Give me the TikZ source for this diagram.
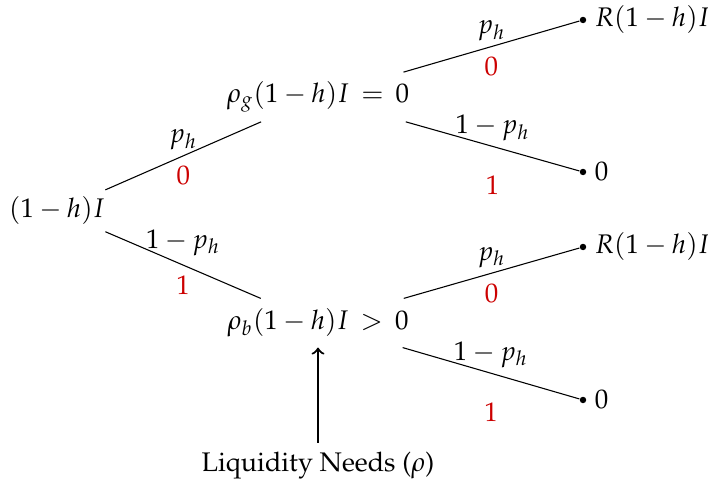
\documentclass[tikz,border=0pt]{standalone}
\usepackage[T1]{fontenc}
\usepackage{mathpazo}
\usepackage{amsmath}
\usepackage{tikz}
\definecolor{payred}{RGB}{204, 0, 0}

\begin{document}
\begin{tikzpicture}[x=0.372pt, y=0.372pt,
    state/.style={inner xsep=0pt, minimum height=17.9pt},
    leaf/.style={circle, fill=black, inner sep=0pt, minimum size=2.4pt},
    prob/.style={midway, anchor=base, yshift=4.8pt},
    pay/.style={midway, anchor=north, inner sep=0pt, yshift=-3.7pt, text=payred},
    paylow/.style={pay, yshift=-7pt}]
    \useasboundingbox (0,0) rectangle (708,488);
    % states
    \node[state] (root) at (57,277) {$(1-h)I$};
    \node[state] (g) at (318,391) {$\rho_g(1-h)I\,=\,0$};
    \node[state] (b) at (318,165) {$\rho_b(1-h)I\,>\,0$};
    % final payoffs
    \node[leaf, label={[label distance=-0.5pt]right:{$R(1-h)I$}}] (gh) at (583,468) {};
    \node[leaf, label={[label distance=-0.5pt]right:{$0$}}] (gl) at (583,316) {};
    \node[leaf, label={[label distance=-0.5pt]right:{$R(1-h)I$}}] (bh) at (583,241) {};
    \node[leaf, label={[label distance=-0.5pt]right:{$0$}}] (bl) at (583,88) {};
    \node (liq) at (318,22) {Liquidity Needs ($\rho$)};
    % branches
    \draw (root) -- (g) node[prob] {$p_h$} node[pay] {0};
    \draw (root) -- (b) node[prob, yshift=1.5pt] {$1-p_h$} node[pay] {1};
    \draw (g) -- (gh) node[prob] {$p_h$} node[pay] {0};
    \draw (g) -- (gl) node[prob] {$1-p_h$} node[paylow] {1};
    \draw (b) -- (bh) node[prob] {$p_h$} node[pay] {0};
    \draw (b) -- (bl) node[prob] {$1-p_h$} node[paylow] {1};
    \draw[->, thick] (liq) -- (b);
  \end{tikzpicture}
\end{document}
